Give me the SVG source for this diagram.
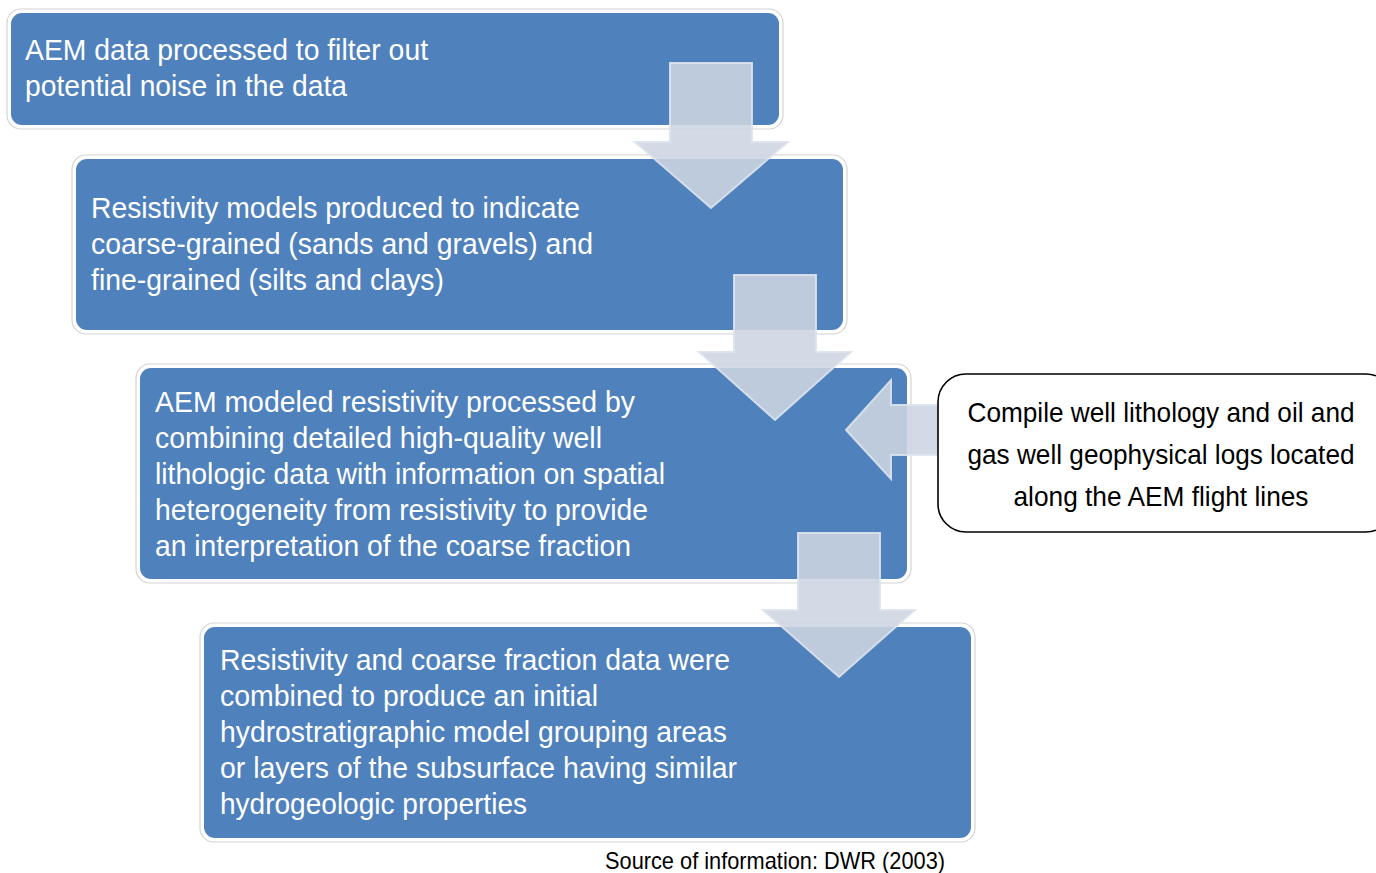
<svg xmlns="http://www.w3.org/2000/svg" width="1376" height="873" viewBox="0 0 1376 873">
<style>
.outer{fill:#fff;stroke:#d4d4d4;stroke-width:1.2}
.blue{fill:#4f81bd}
.bt{font-family:"Liberation Sans",Arial,sans-serif;font-size:30px;fill:#fff}
.ct{font-family:"Liberation Sans",Arial,sans-serif;font-size:27.5px;fill:#000;text-anchor:middle}
.arr{fill:#cdd5e1;fill-opacity:0.88;stroke:#dde3ec;stroke-width:2;stroke-opacity:0.9}
.src{font-family:"Liberation Sans",Arial,sans-serif;font-size:24px;fill:#000}
</style>
<rect width="1376" height="873" fill="#fff"/>
<g id="box1">
<rect class="outer" x="7" y="9" width="776" height="120" rx="14"/>
<rect class="blue" x="11" y="13" width="768" height="112" rx="11"/>
<text class="bt"><tspan x="25" y="60" textLength="403" lengthAdjust="spacingAndGlyphs">AEM data processed to filter out</tspan><tspan x="25" y="96" textLength="322" lengthAdjust="spacingAndGlyphs">potential noise in the data</tspan></text>
</g>
<g id="box2">
<rect class="outer" x="72" y="155" width="775" height="179" rx="14"/>
<rect class="blue" x="76" y="159" width="767" height="171" rx="11"/>
<text class="bt"><tspan x="91" y="218" textLength="489" lengthAdjust="spacingAndGlyphs">Resistivity models produced to indicate</tspan><tspan x="91" y="254" textLength="502" lengthAdjust="spacingAndGlyphs">coarse-grained (sands and gravels) and</tspan><tspan x="91" y="290" textLength="353" lengthAdjust="spacingAndGlyphs">fine-grained (silts and clays)</tspan></text>
</g>
<g id="box3">
<rect class="outer" x="136" y="364" width="775" height="219" rx="14"/>
<rect class="blue" x="140" y="368" width="767" height="211" rx="11"/>
<text class="bt"><tspan x="155" y="412" textLength="480" lengthAdjust="spacingAndGlyphs">AEM modeled resistivity processed by</tspan><tspan x="155" y="448" textLength="447" lengthAdjust="spacingAndGlyphs">combining detailed high-quality well</tspan><tspan x="155" y="484" textLength="510" lengthAdjust="spacingAndGlyphs">lithologic data with information on spatial</tspan><tspan x="155" y="520" textLength="493" lengthAdjust="spacingAndGlyphs">heterogeneity from resistivity to provide</tspan><tspan x="155" y="556" textLength="476" lengthAdjust="spacingAndGlyphs">an interpretation of the coarse fraction</tspan></text>
</g>
<g id="box4">
<rect class="outer" x="200" y="623" width="775" height="219" rx="14"/>
<rect class="blue" x="204" y="627" width="767" height="211" rx="11"/>
<text class="bt"><tspan x="220" y="670" textLength="510" lengthAdjust="spacingAndGlyphs">Resistivity and coarse fraction data were</tspan><tspan x="220" y="706" textLength="378" lengthAdjust="spacingAndGlyphs">combined to produce an initial</tspan><tspan x="220" y="742" textLength="507" lengthAdjust="spacingAndGlyphs">hydrostratigraphic model grouping areas</tspan><tspan x="220" y="778" textLength="517" lengthAdjust="spacingAndGlyphs">or layers of the subsurface having similar</tspan><tspan x="220" y="814" textLength="307" lengthAdjust="spacingAndGlyphs">hydrogeologic properties</tspan></text>
</g>
<g id="connectors">
<path class="arr" d="M670,63 H752 V142 H788 L711,208 L635,142 H670 Z"/>
<path class="arr" d="M734,275 H816 V352 H851 L775,420 L699,352 H734 Z"/>
<path class="arr" d="M798,533 H880 V610 H915 L839,677 L763,610 H798 Z"/>
<path class="arr" d="M950,405 V455 H891 V479 L846,430 L891,380 V405 Z"/>
</g>
<g id="callout">
<path d="M1376,375.85 A28,28 0 0 0 1366,374 H966 A28,28 0 0 0 938,402 V504 A28,28 0 0 0 966,532 H1366 A28,28 0 0 0 1376,530.15" fill="#fff" stroke="#000" stroke-width="1.6"/>
<text class="ct"><tspan x="1161" y="422" textLength="387" lengthAdjust="spacingAndGlyphs">Compile well lithology and oil and</tspan><tspan x="1161" y="464" textLength="387" lengthAdjust="spacingAndGlyphs">gas well geophysical logs located</tspan><tspan x="1161" y="506" textLength="295" lengthAdjust="spacingAndGlyphs">along the AEM flight lines</tspan></text>
</g>
<text class="src" x="605" y="869" textLength="340" lengthAdjust="spacingAndGlyphs">Source of information: DWR (2003)</text>
</svg>
